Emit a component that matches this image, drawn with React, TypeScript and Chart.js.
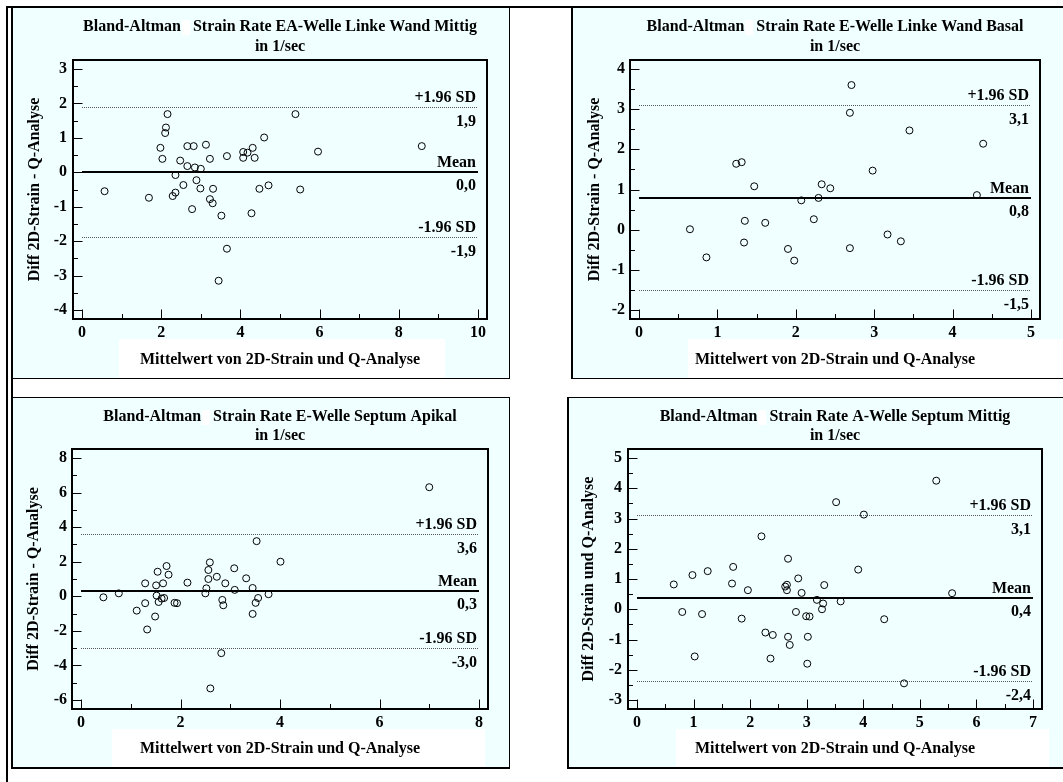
import React, { useEffect, useRef } from "react";
import { Chart, registerables } from "chart.js";
Chart.register(...registerables);

const FONT = "'Liberation Serif', 'Times New Roman', serif";
const BG = "#F0FFFF";

// ---------- shared texts ----------
const refLabels = ["+1.96 SD", "Mean", "-1.96 SD"];
const xAxisTitle = "Mittelwert von 2D-Strain und Q-Analyse";

// ---------- Panel 1: EA-Welle Linke Wand Mittig ----------
const p1Title = ["Bland-Altman   Strain Rate EA-Welle Linke Wand Mittig", "in 1/sec"];
const p1YTitle = "Diff 2D-Strain - Q-Analyse";
const p1X = [0.57, 1.69, 1.98, 2.03, 2.16, 2.12, 2.10, 2.29, 2.36, 2.36, 2.48, 2.56, 2.66, 2.82, 2.66, 2.85, 3.00, 2.89, 2.99, 2.78, 3.13, 3.23, 3.23, 3.30, 3.31, 3.52, 3.66, 3.66, 3.45, 4.07, 4.07, 4.18, 4.31, 4.36, 4.28, 4.48, 4.60, 4.71, 5.39, 5.51, 5.96, 8.58];
const p1Y = [-0.55, -0.74, 0.71, 0.39, 1.69, 1.30, 1.14, -0.69, -0.59, -0.08, 0.34, -0.37, 0.76, 0.76, 0.18, 0.14, 0.10, -0.23, -0.47, -1.07, 0.80, 0.39, -0.78, -0.90, -0.48, -1.26, 0.47, -2.22, -3.15, 0.59, 0.42, 0.57, 0.71, 0.42, -1.19, -0.48, 1.01, -0.38, 1.69, -0.50, 0.60, 0.76];
const p1Refs = [1.89, 0.0, -1.89];
const p1RefText = ["1,9", "0,0", "-1,9"];

// ---------- Panel 2: E-Welle Linke Wand Basal ----------
const p2Title = ["Bland-Altman   Strain Rate E-Welle Linke Wand Basal", "in 1/sec"];
const p2YTitle = "Diff 2D-Strain - Q-Analyse";
const p2X = [0.65, 0.86, 1.24, 1.31, 1.35, 1.34, 1.47, 1.61, 1.90, 1.98, 2.07, 2.23, 2.29, 2.33, 2.44, 2.69, 2.69, 2.71, 2.98, 3.17, 3.34, 3.45, 4.31, 4.39];
const p2Y = [0.01, -0.69, 1.64, 1.68, 0.22, -0.32, 1.08, 0.17, -0.48, -0.77, 0.73, 0.26, 0.79, 1.13, 1.03, -0.46, 2.91, 3.60, 1.47, -0.12, -0.29, 2.47, 0.86, 2.14];
const p2Refs = [3.1, 0.79, -1.51];
const p2RefText = ["3,1", "0,8", "-1,5"];

// ---------- Panel 3: E-Welle Septum Apikal ----------
const p3Title = ["Bland-Altman   Strain Rate E-Welle Septum Apikal", "in 1/sec"];
const p3YTitle = "Diff 2D-Strain - Q-Analyse";
const p3X = [0.45, 0.76, 1.12, 1.29, 1.29, 1.33, 1.49, 1.51, 1.54, 1.52, 1.56, 1.62, 1.67, 1.65, 1.72, 1.76, 1.88, 1.93, 2.14, 2.50, 2.52, 2.56, 2.56, 2.59, 2.60, 2.73, 2.84, 2.86, 2.82, 2.90, 3.08, 3.09, 3.32, 3.45, 3.45, 3.51, 3.53, 3.56, 3.77, 4.01, 7.00];
const p3Y = [-0.06, 0.17, -0.83, 0.75, -0.40, -1.92, -1.17, 0.63, 1.42, 0.04, -0.33, -0.13, -0.10, 0.75, 1.75, 1.25, -0.38, -0.40, 0.79, 0.17, 0.46, 1.52, 1.00, 1.96, -5.33, 1.13, -0.21, -0.52, -3.29, 0.75, 1.62, 0.37, 1.04, 0.48, -1.02, -0.38, 3.19, -0.10, 0.12, 2.00, 6.31];
const p3Refs = [3.62, 0.29, -3.02];
const p3RefText = ["3,6", "0,3", "-3,0"];

// ---------- Panel 4: A-Welle Septum Mittig ----------
const p4Title = ["Bland-Altman   Strain Rate A-Welle Septum Mittig", "in 1/sec"];
const p4YTitle = "Diff 2D-Strain und Q-Analyse";
const p4X = [0.65, 0.80, 0.98, 1.02, 1.15, 1.25, 1.68, 1.70, 1.85, 1.96, 2.20, 2.27, 2.40, 2.36, 2.62, 2.65, 2.65, 2.67, 2.67, 2.70, 2.81, 2.85, 2.91, 2.99, 3.05, 3.02, 3.01, 3.18, 3.27, 3.29, 3.31, 3.60, 3.52, 3.91, 4.01, 4.37, 4.72, 5.29, 5.57];
const p4Y = [0.82, -0.09, 1.13, -1.56, -0.16, 1.26, 0.85, 1.40, -0.31, 0.63, 2.41, -0.77, -0.85, -1.63, 0.75, 0.81, 0.63, 1.67, -0.91, -1.18, -0.09, 1.02, 0.54, -0.23, -0.24, -0.91, -1.80, 0.31, 0.00, 0.19, 0.80, 0.26, 3.54, 1.31, 3.13, -0.33, -2.45, 4.25, 0.53];
const p4Refs = [3.11, 0.37, -2.38];
const p4RefText = ["3,1", "0,4", "-2,4"];

// ---------- axis ranges ----------
const p1XRange = [0, 10, 2];
const p1YRange = [-4, 3, 1];
const p2XRange = [0, 5, 1];
const p2YRange = [-2, 4, 1];
const p3XRange = [0, 8, 2];
const p3YRange = [-6, 8, 2];
const p4XRange = [0, 7, 1];
const p4YRange = [-3, 5, 1];

const decorPlugin: any = {
  id: "baDecor",
  beforeDraw(chart: any, _a: any, o: any) {
    const { ctx, width, height } = chart;
    ctx.save();
    ctx.fillStyle = BG;
    ctx.fillRect(0, 0, width, height);
    ctx.fillStyle = "#ffffff";
    ctx.fillRect(o.box[0], o.box[2], o.box[1] - o.box[0], height - o.box[2]);
    const tb = chart.titleBlock;
    if (tb) {
      ctx.font = `bold 16px ${FONT}`;
      const full = ctx.measureText(o.titleLine).width;
      const lead = ctx.measureText("Bland-Altman").width;
      const cx = (tb.left + tb.right) / 2;
      const x0 = cx - full / 2 + lead + 1;
      ctx.fillRect(Math.round(x0), o.gapY - 7, 8, 15);
    }
    ctx.restore();
  },
  beforeDatasetsDraw(chart: any, _a: any, o: any) {
    const { ctx, chartArea: ca, scales } = chart;
    const xs = scales.x;
    const ys = scales.y;
    const L = Math.round(ca.left);
    const R = Math.round(ca.right);
    const T = Math.round(ca.top);
    const B = Math.round(ca.bottom);
    const off = 9;
    const fl = L - off, fr = R + off, ft = T - off, fb = B + off;
    ctx.save();
    ctx.strokeStyle = "#000";
    ctx.lineWidth = 1;
    ctx.beginPath();
    const yt = ys.ticks.map((t: any) => t.value);
    yt.forEach((v: number, i: number) => {
      const p = Math.round(ys.getPixelForValue(v)) + 0.5;
      ctx.moveTo(fl, p);
      ctx.lineTo(L + 0.5, p);
      if (i < yt.length - 1) {
        const m = Math.round(ys.getPixelForValue((v + yt[i + 1]) / 2)) + 0.5;
        ctx.moveTo(fl, m);
        ctx.lineTo(fl + 5, m);
      }
    });
    const xt = xs.ticks.map((t: any) => t.value);
    xt.forEach((v: number, i: number) => {
      const p = Math.round(xs.getPixelForValue(v)) + 0.5;
      ctx.moveTo(p, fb);
      ctx.lineTo(p, B - 0.5);
      if (i < xt.length - 1) {
        const m = Math.round(xs.getPixelForValue((v + xt[i + 1]) / 2)) + 0.5;
        ctx.moveTo(m, fb);
        ctx.lineTo(m, fb - 5);
      }
    });
    ctx.stroke();
    ctx.lineWidth = 2;
    ctx.strokeRect(fl, ft, fr - fl, fb - ft);

    // reference lines
    o.refs.forEach((v: number, i: number) => {
      let p = ys.getPixelForValue(v);
      ctx.beginPath();
      if (i === 1) {
        p = Math.round(p);
        ctx.setLineDash([]);
        ctx.lineWidth = 2;
        ctx.strokeStyle = "#000";
      } else {
        p = Math.round(p) + 0.5;
        ctx.setLineDash([1, 1]);
        ctx.lineWidth = 1;
        ctx.strokeStyle = "#555";
      }
      ctx.moveTo(L, p);
      ctx.lineTo(R, p);
      ctx.stroke();
      ctx.setLineDash([]);
      ctx.fillStyle = "#000";
      ctx.font = `bold 16px ${FONT}`;
      ctx.textAlign = "right";
      ctx.textBaseline = "alphabetic";
      ctx.fillText(refLabels[i], R - 2, p - 5.5);
      ctx.fillText(o.refText[i], R - 2, p + 18);
    });
    ctx.restore();
  },
};

type Cfg = {
  left: number; top: number; w: number; h: number;
  title: string[]; yTitle: string;
  xs: number[]; ys: number[];
  xr: number[]; yr: number[];
  refs: number[]; refText: string[];
  yW: number; padR: number; xH: number;
  tPt: number; tPb: number; tLh: number;
  yTitlePt: number; xTitlePb: number;
  yTickPad: number; xTickPad: number;
  box: number[];
};

const panels: Cfg[] = [
  { left: 13, top: 8, w: 496, h: 370, title: p1Title, yTitle: p1YTitle, xs: p1X, ys: p1Y, xr: p1XRange, yr: p1YRange, refs: p1Refs, refText: p1RefText,
    yW: 69, padR: 31, xH: 68, tPt: 9, tPb: 12, tLh: 20, yTitlePt: 12, xTitlePb: 8, yTickPad: 15, xTickPad: 13, box: [106, 432, 331] },
  { left: 573, top: 8, w: 490, h: 370, title: p2Title, yTitle: p2YTitle, xs: p2X, ys: p2Y, xr: p2XRange, yr: p2YRange, refs: p2Refs, refText: p2RefText,
    yW: 66, padR: 32, xH: 68, tPt: 9, tPb: 12, tLh: 20, yTitlePt: 12, xTitlePb: 8, yTickPad: 14, xTickPad: 13, box: [115, 490, 331] },
  { left: 13, top: 398, w: 496, h: 369, title: p3Title, yTitle: p3YTitle, xs: p3X, ys: p3Y, xr: p3XRange, yr: p3YRange, refs: p3Refs, refText: p3RefText,
    yW: 68, padR: 30, xH: 67, tPt: 9.75, tPb: 13.25, tLh: 18.5, yTitlePt: 11, xTitlePb: 8, yTickPad: 14, xTickPad: 13, box: [99, 472, 331] },
  { left: 569, top: 398, w: 494, h: 369, title: p4Title, yTitle: p4YTitle, xs: p4X, ys: p4Y, xr: p4XRange, yr: p4YRange, refs: p4Refs, refText: p4RefText,
    yW: 68, padR: 30, xH: 67, tPt: 9.75, tPb: 13.25, tLh: 18.5, yTitlePt: 10, xTitlePb: 8, yTickPad: 15, xTickPad: 13, box: [107, 480, 331] },
];

function Panel({ c }: { c: Cfg }) {
  const ref = useRef<HTMLCanvasElement | null>(null);
  useEffect(() => {
    if (!ref.current) return;
    const font = (lh = 1.2) => ({ family: FONT, size: 16, weight: "bold" as const, lineHeight: lh });
    const chart = new Chart(ref.current, {
      type: "scatter",
      data: {
        datasets: [
          {
            data: c.xs.map((x, i) => ({ x, y: c.ys[i] })),
            pointRadius: 3.5,
            pointHoverRadius: 3.5,
            pointBorderWidth: 1,
            pointBorderColor: "#000",
            pointBackgroundColor: "rgba(0,0,0,0)",
            clip: false,
          } as any,
        ],
      },
      options: {
        animation: false,
        responsive: false,
        devicePixelRatio: 1,
        events: [],
        layout: { padding: { left: 0, right: c.padR, top: 0, bottom: 0 } },
        plugins: {
          legend: { display: false },
          tooltip: { enabled: false },
          title: {
            display: true,
            text: c.title,
            fullSize: false,
            color: "#000",
            font: font(c.tLh / 16),
            padding: { top: c.tPt, bottom: c.tPb },
          },
          baDecor: {
            refs: c.refs,
            refText: c.refText,
            box: c.box,
            titleLine: c.title[0],
            gapY: c.tPt + c.tLh / 2,
          },
        } as any,
        scales: {
          x: {
            type: "linear",
            min: c.xr[0],
            max: c.xr[1],
            grid: { display: false, drawTicks: false },
            border: { display: false },
            ticks: {
              stepSize: c.xr[2],
              autoSkip: false,
              maxRotation: 0,
              minRotation: 0,
              padding: c.xTickPad,
              color: "#000",
              font: font(1.2),
              callback: (v: any) => String(v),
            },
            title: {
              display: true,
              text: xAxisTitle,
              color: "#000",
              font: font(1.25),
              padding: { top: 0, bottom: c.xTitlePb },
            },
            afterFit: (s: any) => { s.height = c.xH; },
          },
          y: {
            type: "linear",
            min: c.yr[0],
            max: c.yr[1],
            grid: { display: false, drawTicks: false },
            border: { display: false },
            ticks: {
              stepSize: c.yr[2],
              autoSkip: false,
              padding: c.yTickPad,
              color: "#000",
              font: font(1.2),
              callback: (v: any) => String(v),
            },
            title: {
              display: true,
              text: c.yTitle,
              color: "#000",
              font: font(1.25),
              padding: { top: c.yTitlePt, bottom: 0 },
            },
            afterFit: (s: any) => { s.width = c.yW; },
          },
        },
      } as any,
      plugins: [decorPlugin],
    });
    return () => chart.destroy();
  }, [c]);
  return (
    <canvas
      ref={ref}
      width={c.w}
      height={c.h}
      style={{ position: "absolute", left: c.left, top: c.top, width: c.w, height: c.h, display: "block" }}
    />
  );
}

const frameLines = [
  [6, 6, 1057, 2],
  [6, 6, 2, 776],
  [11, 8, 2, 760],
  [509, 8, 1, 371],
  [11, 378, 499, 1],
  [571, 8, 2, 371],
  [571, 378, 492, 1],
  [11, 397, 499, 1],
  [509, 397, 1, 371],
  [11, 767, 499, 2],
  [567, 397, 496, 1],
  [567, 397, 2, 372],
  [567, 767, 496, 2],
];

export default function App() {
  return (
    <div style={{ position: "absolute", left: 0, top: 0, width: 1063, height: 782, background: "#fff", overflow: "hidden" }}>
      {panels.map((c, i) => (
        <Panel key={i} c={c} />
      ))}
      {frameLines.map((l, i) => (
        <div key={"l" + i} style={{ position: "absolute", left: l[0], top: l[1], width: l[2], height: l[3], background: "#000" }} />
      ))}
    </div>
  );
}
